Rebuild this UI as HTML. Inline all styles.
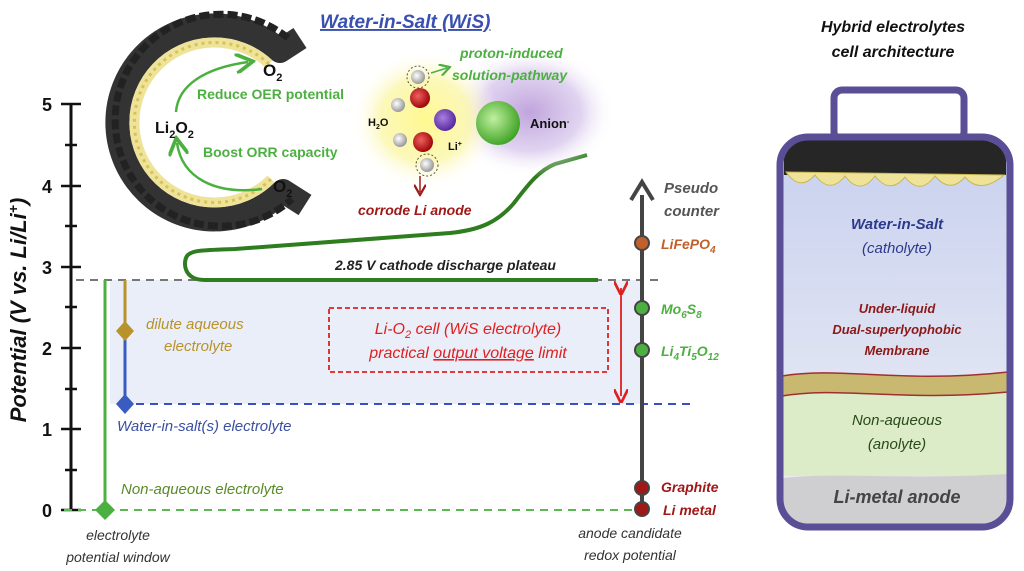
<!DOCTYPE html>
<html><head><meta charset="utf-8"><style>
html,body{margin:0;padding:0;background:#fff;width:1024px;height:571px;overflow:hidden}
svg{display:block}
text{font-family:"Liberation Sans",sans-serif}
.bi{font-weight:bold;font-style:italic}
.i{font-style:italic}
</style></head><body>
<svg width="1024" height="571" viewBox="0 0 1024 571" xmlns="http://www.w3.org/2000/svg">
<defs>
<radialGradient id="gy" cx="0.5" cy="0.5" r="0.5"><stop offset="0" stop-color="#fff890"/><stop offset="0.6" stop-color="#fbf6a8" stop-opacity="0.8"/><stop offset="1" stop-color="#fff" stop-opacity="0"/></radialGradient>
<radialGradient id="gp" cx="0.5" cy="0.5" r="0.5"><stop offset="0" stop-color="#c0a4dc"/><stop offset="0.6" stop-color="#d8c8ec" stop-opacity="0.8"/><stop offset="1" stop-color="#fff" stop-opacity="0"/></radialGradient>
<radialGradient id="ball" cx="0.4" cy="0.4" r="0.65"><stop offset="0" stop-color="#c0f0a0"/><stop offset="1" stop-color="#3aa020"/></radialGradient>
<radialGradient id="red" cx="0.4" cy="0.4" r="0.6"><stop offset="0" stop-color="#f06060"/><stop offset="1" stop-color="#a00808"/></radialGradient>
<radialGradient id="pur" cx="0.4" cy="0.4" r="0.6"><stop offset="0" stop-color="#a880e0"/><stop offset="1" stop-color="#5a2aa0"/></radialGradient>
<radialGradient id="wh" cx="0.4" cy="0.4" r="0.6"><stop offset="0" stop-color="#fff"/><stop offset="1" stop-color="#999"/></radialGradient>
<linearGradient id="wis" x1="0" y1="0" x2="0" y2="1"><stop offset="0" stop-color="#c8d0ee"/><stop offset="1" stop-color="#eef0f6"/></linearGradient>
<marker id="ar" markerWidth="8" markerHeight="8" refX="4" refY="4" orient="auto"><path d="M0,0 L8,4 L0,8" fill="none" stroke="#e02020" stroke-width="1.5"/></marker>
<marker id="ag" markerWidth="8" markerHeight="8" refX="5" refY="4" orient="auto"><path d="M0,0 L7,4 L0,8" fill="none" stroke="#4cb040" stroke-width="1.5"/></marker>
<marker id="ad" markerWidth="8" markerHeight="8" refX="5" refY="4" orient="auto"><path d="M0,0 L7,4 L0,8" fill="none" stroke="#a01818" stroke-width="1.5"/></marker>
</defs>

<rect x="110" y="280" width="530" height="124" fill="#e9eef8"/>

<line x1="71" y1="104" x2="71" y2="511" stroke="#111" stroke-width="3"/>
<g stroke="#111" stroke-width="2.5">
<line x1="61" y1="104" x2="81" y2="104"/><line x1="65" y1="145" x2="77" y2="145"/>
<line x1="61" y1="186" x2="81" y2="186"/><line x1="65" y1="226" x2="77" y2="226"/>
<line x1="61" y1="267" x2="81" y2="267"/><line x1="65" y1="307" x2="77" y2="307"/>
<line x1="61" y1="348" x2="81" y2="348"/><line x1="65" y1="389" x2="77" y2="389"/>
<line x1="61" y1="429" x2="81" y2="429"/><line x1="65" y1="470" x2="77" y2="470"/>
<line x1="61" y1="510" x2="81" y2="510"/>
</g>
<g font-size="18" font-weight="bold" text-anchor="end" fill="#111">
<text x="52" y="111">5</text><text x="52" y="193">4</text><text x="52" y="274">3</text>
<text x="52" y="355">2</text><text x="52" y="436">1</text><text x="52" y="517">0</text>
</g>
<text class="bi" font-size="22" fill="#111" transform="translate(26,310) rotate(-90)" text-anchor="middle">Potential (V vs. Li/Li<tspan dy="-8" font-size="14">+</tspan><tspan dy="8">)</tspan></text>

<line x1="76" y1="280" x2="660" y2="280" stroke="#777" stroke-width="2" stroke-dasharray="8,6"/>
<line x1="136" y1="404" x2="692" y2="404" stroke="#3a50c0" stroke-width="2" stroke-dasharray="8,6"/>
<line x1="64" y1="510" x2="640" y2="510" stroke="#5cb850" stroke-width="2" stroke-dasharray="8,6"/>

<line x1="105" y1="280" x2="105" y2="510" stroke="#4cb040" stroke-width="3"/>
<path d="M105,500 L115,510 L105,520 L95,510Z" fill="#4cb040"/>
<line x1="125" y1="280" x2="125" y2="331" stroke="#b8922a" stroke-width="3"/>
<line x1="125" y1="331" x2="125" y2="404" stroke="#3a5cc0" stroke-width="3"/>
<path d="M125,321 L134,331 L125,341 L116,331Z" fill="#b8922a"/>
<path d="M125,394 L134,404 L125,414 L116,404Z" fill="#3a5cc0"/>
<text class="i" font-size="15" fill="#b8922a" x="146" y="329">dilute aqueous</text>
<text class="i" font-size="15" fill="#b8922a" x="164" y="351">electrolyte</text>
<text class="i" font-size="15" fill="#3b4fa0" x="117" y="431">Water-in-salt(s) electrolyte</text>
<text class="i" font-size="15" fill="#5a8a2a" x="121" y="494">Non-aqueous electrolyte</text>
<text class="i" font-size="14" fill="#333" x="118" y="540" text-anchor="middle">electrolyte</text>
<text class="i" font-size="14" fill="#333" x="118" y="562" text-anchor="middle">potential window</text>

<rect x="329" y="308" width="279" height="64" fill="none" stroke="#e02020" stroke-width="1.8" stroke-dasharray="5,3"/>
<text class="i" font-size="16" fill="#e02020" x="468" y="334" text-anchor="middle">Li-O<tspan dy="4" font-size="11">2</tspan><tspan dy="-4"> cell (WiS electrolyte)</tspan></text>
<text class="i" font-size="16" fill="#e02020" x="468" y="358" text-anchor="middle">practical <tspan text-decoration="underline">output voltage</tspan> limit</text>
<line x1="621" y1="288" x2="621" y2="396" stroke="#e02020" stroke-width="1.8" marker-start="url(#ar)" marker-end="url(#ar)"/>

<path d="M598,280 L205,280 C183,280 183,262 187,256 C191,250 205,250 235,249 L450,233 C480,230 498,222 514,203 C530,182 540,170 555,164 L587,155" fill="none" stroke="#2e7d1e" stroke-width="4"/>
<text class="bi" font-size="14" fill="#222" x="335" y="270">2.85 V cathode discharge plateau</text>

<line x1="642" y1="515" x2="642" y2="195" stroke="#444" stroke-width="4"/>
<path d="M631,200 L642,182 L653,200" fill="none" stroke="#444" stroke-width="4"/>
<text class="bi" font-size="15" fill="#555" x="664" y="193">Pseudo</text>
<text class="bi" font-size="15" fill="#555" x="664" y="216">counter</text>
<circle cx="642" cy="243" r="7" fill="#c0602a" stroke="#444" stroke-width="2"/>
<circle cx="642" cy="308" r="7" fill="#4cb040" stroke="#444" stroke-width="2"/>
<circle cx="642" cy="350" r="7" fill="#4cb040" stroke="#444" stroke-width="2"/>
<circle cx="642" cy="488" r="7" fill="#a01818" stroke="#444" stroke-width="2"/>
<circle cx="642" cy="509" r="7" fill="#a01818" stroke="#444" stroke-width="2"/>
<text class="bi" font-size="14" fill="#c0602a" x="661" y="249">LiFePO<tspan dy="4" font-size="10">4</tspan></text>
<text class="bi" font-size="14" fill="#4cb040" x="661" y="314">Mo<tspan dy="4" font-size="10">6</tspan><tspan dy="-4">S</tspan><tspan dy="4" font-size="10">8</tspan></text>
<text class="bi" font-size="14" fill="#4cb040" x="661" y="356">Li<tspan dy="4" font-size="10">4</tspan><tspan dy="-4">Ti</tspan><tspan dy="4" font-size="10">5</tspan><tspan dy="-4">O</tspan><tspan dy="4" font-size="10">12</tspan></text>
<text class="bi" font-size="14" fill="#a01818" x="661" y="492">Graphite</text>
<text class="bi" font-size="14" fill="#a01818" x="663" y="515">Li metal</text>
<text class="i" font-size="14" fill="#333" x="630" y="538" text-anchor="middle">anode candidate</text>
<text class="i" font-size="14" fill="#333" x="630" y="560" text-anchor="middle">redox potential</text>

<!-- carbon C ring -->
<path d="M300,38 L280,51 A97,97 0 1 0 283,191 L305,205" fill="none" stroke="#333" stroke-width="24" stroke-linejoin="round"/>
<path d="M288,38 A106,106 0 1 0 292,199" fill="none" stroke="#222" stroke-width="7" stroke-dasharray="10,4"/>
<path d="M269,64 A80,80 0 1 0 271,179" fill="none" stroke="#efe39a" stroke-width="10"/>
<path d="M269,64 A80,80 0 1 0 271,179" fill="none" stroke="#d4c458" stroke-width="3" stroke-dasharray="3,4"/>
<path d="M176,112 C178,85 205,68 248,62" fill="none" stroke="#4cb040" stroke-width="2.5" marker-end="url(#ag)"/>
<path d="M262,189 C215,195 182,178 177,143" fill="none" stroke="#4cb040" stroke-width="2.5" marker-end="url(#ag)"/>
<text font-size="17" font-weight="bold" fill="#111" x="263" y="76">O<tspan dy="5" font-size="11">2</tspan></text>
<text font-size="16" font-weight="bold" fill="#111" x="155" y="133">Li<tspan dy="5" font-size="11">2</tspan><tspan dy="-5">O</tspan><tspan dy="5" font-size="11">2</tspan></text>
<text font-size="17" font-weight="bold" fill="#111" x="273" y="192">O<tspan dy="5" font-size="11">2</tspan></text>
<text font-size="14" font-weight="bold" fill="#4cb040" x="197" y="99">Reduce OER potential</text>
<text font-size="14" font-weight="bold" fill="#4cb040" x="203" y="157">Boost ORR capacity</text>

<!-- WiS title & molecules -->
<text class="bi" font-size="19" fill="#3a50b0" x="320" y="28" text-decoration="underline">Water-in-Salt (WiS)</text>
<ellipse cx="530" cy="112" rx="85" ry="65" fill="url(#gp)"/>
<ellipse cx="425" cy="120" rx="75" ry="70" fill="url(#gy)"/>
<circle cx="398" cy="105" r="7" fill="url(#wh)"/><circle cx="418" cy="77" r="7" fill="url(#wh)"/>
<circle cx="420" cy="98" r="10" fill="url(#red)"/>
<circle cx="400" cy="140" r="7" fill="url(#wh)"/><circle cx="427" cy="165" r="7" fill="url(#wh)"/>
<circle cx="423" cy="142" r="10" fill="url(#red)"/>
<circle cx="418" cy="77" r="11" fill="none" stroke="#555" stroke-dasharray="2,2"/>
<circle cx="427" cy="165" r="11" fill="none" stroke="#555" stroke-dasharray="2,2"/>
<circle cx="445" cy="120" r="11" fill="url(#pur)"/>
<circle cx="498" cy="123" r="22" fill="url(#ball)"/>
<text font-size="11" font-weight="bold" fill="#111" x="368" y="126">H<tspan dy="3" font-size="7">2</tspan><tspan dy="-3">O</tspan></text>
<text font-size="11" font-weight="bold" fill="#111" x="448" y="150">Li<tspan dy="-4" font-size="7">+</tspan></text>
<text font-size="13" font-weight="bold" fill="#111" x="530" y="128">Anion<tspan dy="-4" font-size="7">-</tspan></text>
<path d="M431,73 L447,68" stroke="#4cb040" stroke-width="1.5" fill="none" marker-end="url(#ag)"/>
<text class="bi" font-size="14" fill="#4cb040" x="460" y="58">proton-induced</text>
<text class="bi" font-size="14" fill="#4cb040" x="452" y="80">solution-pathway</text>
<path d="M420,176 L420,192" stroke="#a01818" stroke-width="1.5" marker-end="url(#ad)"/>
<text class="bi" font-size="14" fill="#a01818" x="358" y="215">corrode Li anode</text>

<!-- cell -->
<text class="bi" font-size="16" fill="#111" x="893" y="32" text-anchor="middle">Hybrid electrolytes</text>
<text class="bi" font-size="16" fill="#111" x="893" y="57" text-anchor="middle">cell architecture</text>
<rect x="834" y="90" width="130" height="50" rx="8" fill="none" stroke="#5a4f96" stroke-width="7"/>
<rect x="780" y="137" width="230" height="390" rx="28" fill="url(#wis)"/>
<path d="M782,376 C840,368 900,384 1008,372 L1008,476 L782,476Z" fill="#dcebc8"/>
<path d="M782,478 C840,472 900,480 1008,474 L1008,500 C1008,515 995,524 985,524 L805,524 C795,524 782,515 782,500Z" fill="#cfcfd2"/>
<path d="M782,376 C840,366 900,384 1008,372 L1008,392 C900,402 840,386 782,396Z" fill="#c8b870" stroke="#a03030" stroke-width="1.5"/>
<path d="M784,150 C790,142 800,140 810,140 L980,140 C990,140 1004,146 1006,160 L1006,175 L784,175Z" fill="#262626"/>
<path d="M786,172 Q800,192 815,175 Q830,195 845,176 Q860,196 875,176 Q890,195 905,177 Q920,196 935,176 Q950,194 965,177 Q980,195 1004,175 Z" fill="#efe39a" stroke="#c8b850"/>
<rect x="780" y="137" width="230" height="390" rx="28" fill="none" stroke="#5a4f96" stroke-width="7"/>
<text class="bi" font-size="15" fill="#2c3a8c" x="897" y="229" text-anchor="middle">Water-in-Salt</text>
<text class="i" font-size="15" fill="#2c3a8c" x="897" y="253" text-anchor="middle">(catholyte)</text>
<text class="bi" font-size="13" fill="#8c1818" x="897" y="313" text-anchor="middle">Under-liquid</text>
<text class="bi" font-size="13" fill="#8c1818" x="897" y="334" text-anchor="middle">Dual-superlyophobic</text>
<text class="bi" font-size="13" fill="#8c1818" x="897" y="355" text-anchor="middle">Membrane</text>
<text class="i" font-size="15" fill="#2a4a1a" x="897" y="425" text-anchor="middle">Non-aqueous</text>
<text class="i" font-size="15" fill="#2a4a1a" x="897" y="449" text-anchor="middle">(anolyte)</text>
<text class="bi" font-size="18" fill="#444" x="897" y="503" text-anchor="middle">Li-metal anode</text>
</svg>
</body></html>
